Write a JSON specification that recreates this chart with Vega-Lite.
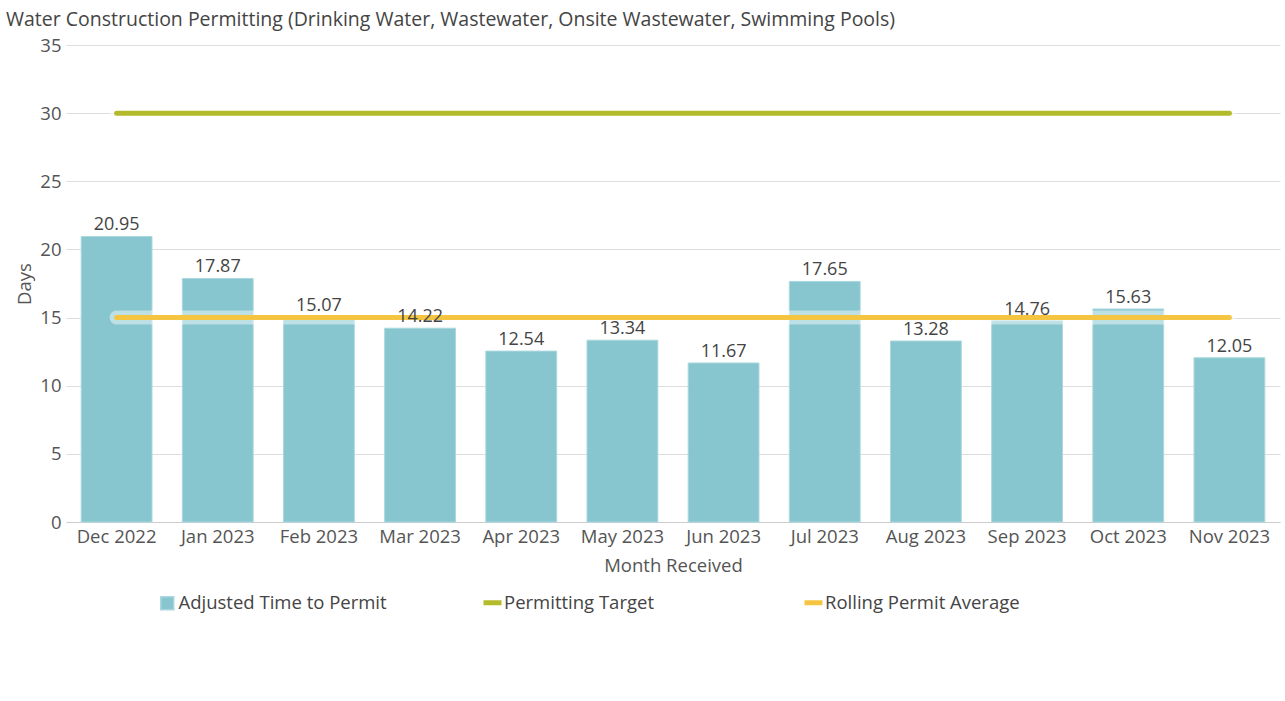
{
  "$schema": "https://vega.github.io/schema/vega-lite/v6.json",
  "autosize": {"type": "none"},
  "padding": {"left": 66, "top": 45, "right": 5, "bottom": 179},
  "width": 1214,
  "height": 477,
  "background": "white",
  "title": {
    "text": "Water Construction Permitting (Drinking Water, Wastewater, Onsite Wastewater, Swimming Pools)",
    "anchor": "start",
    "frame": "group",
    "dx": -60,
    "offset": 6,
    "font": "Open Sans",
    "fontSize": 19.5,
    "fontWeight": "normal",
    "color": "#444444"
  },
  "config": {
    "font": "Open Sans",
    "view": {"stroke": null},
    "axis": {"labelFont": "Open Sans", "titleFont": "Open Sans", "labelColor": "#555555", "titleColor": "#555555", "titleFontWeight": "normal", "labelFontSize": 18.5, "titleFontSize": 18.5},
    "legend": {"labelFont": "Open Sans", "labelFontSize": 18.5, "labelColor": "#444444", "labelLimit": 400}
  },
  "data": {
    "values": [
      {"month": "Dec 2022", "days": 20.95, "target": 30, "avg": 15},
      {"month": "Jan 2023", "days": 17.87, "target": 30, "avg": 15},
      {"month": "Feb 2023", "days": 15.07, "target": 30, "avg": 15},
      {"month": "Mar 2023", "days": 14.22, "target": 30, "avg": 15},
      {"month": "Apr 2023", "days": 12.54, "target": 30, "avg": 15},
      {"month": "May 2023", "days": 13.34, "target": 30, "avg": 15},
      {"month": "Jun 2023", "days": 11.67, "target": 30, "avg": 15},
      {"month": "Jul 2023", "days": 17.65, "target": 30, "avg": 15},
      {"month": "Aug 2023", "days": 13.28, "target": 30, "avg": 15},
      {"month": "Sep 2023", "days": 14.76, "target": 30, "avg": 15},
      {"month": "Oct 2023", "days": 15.63, "target": 30, "avg": 15},
      {"month": "Nov 2023", "days": 12.05, "target": 30, "avg": 15}
    ]
  },
  "encoding": {
    "x": {
      "field": "month", "type": "ordinal", "sort": null,
      "scale": {"paddingInner": 0.3, "paddingOuter": 0.15},
      "axis": {"title": "Month Received", "labelAngle": 0, "ticks": false, "domainColor": "#cccccc", "labelPadding": 5, "titlePadding": 11}
    }
  },
  "layer": [
    {
      "mark": {"type": "bar", "stroke": "#aad8de", "strokeWidth": 1},
      "encoding": {
        "y": {
          "field": "days", "type": "quantitative",
          "scale": {"domain": [0, 35]},
          "axis": {"title": "Days", "values": [0,5,10,15,20,25,30,35], "labelOverlap": false, "ticks": false, "domain": false, "gridColor": "#dddddd", "labelPadding": 5, "titlePadding": 5}
        },
        "color": {
          "datum": "Adjusted Time to Permit",
          "type": "nominal",
          "scale": {"domain": ["Adjusted Time to Permit"], "range": ["#87c6ce"]},
          "legend": {
            "title": null,
            "orient": "none",
            "direction": "horizontal",
            "legendX": 92,
            "legendY": 549,
            "symbolType": "square",
            "symbolSize": 170,
            "labelOffset": 2
          }
        }
      }
    },
    {
      "mark": {"type": "line", "stroke": "white", "strokeWidth": 14, "opacity": 0.45, "strokeCap": "round"},
      "encoding": {"y": {"field": "target", "type": "quantitative", "axis": {"title": "Days", "values": [0,5,10,15,20,25,30,35], "labelOverlap": false, "ticks": false, "domain": false, "gridColor": "#dddddd", "labelPadding": 5, "titlePadding": 5}}}
    },
    {
      "mark": {"type": "line", "strokeWidth": 5, "strokeCap": "round"},
      "encoding": {
        "y": {"field": "target", "type": "quantitative", "axis": {"title": "Days", "values": [0,5,10,15,20,25,30,35], "labelOverlap": false, "ticks": false, "domain": false, "gridColor": "#dddddd", "labelPadding": 5, "titlePadding": 5}},
        "stroke": {
          "datum": "Permitting Target",
          "type": "nominal",
          "scale": {"domain": ["Permitting Target", "Rolling Permit Average"], "range": ["#b3bb2a", "#f5c542"]},
          "legend": {
            "title": null,
            "orient": "none",
            "direction": "horizontal",
            "columns": 2,
            "gridAlign": "each",
            "columnPadding": 140,
            "legendX": 415,
            "legendY": 546,
            "symbolType": "stroke",
            "symbolSize": 324,
            "symbolStrokeWidth": 5,
            "labelOffset": 0
          }
        }
      }
    },
    {
      "mark": {"type": "line", "stroke": "white", "strokeWidth": 14, "opacity": 0.45, "strokeCap": "round"},
      "encoding": {"y": {"field": "avg", "type": "quantitative", "axis": {"title": "Days", "values": [0,5,10,15,20,25,30,35], "labelOverlap": false, "ticks": false, "domain": false, "gridColor": "#dddddd", "labelPadding": 5, "titlePadding": 5}}}
    },
    {
      "mark": {"type": "line", "strokeWidth": 5, "strokeCap": "round"},
      "encoding": {"y": {"field": "avg", "type": "quantitative", "axis": {"title": "Days", "values": [0,5,10,15,20,25,30,35], "labelOverlap": false, "ticks": false, "domain": false, "gridColor": "#dddddd", "labelPadding": 5, "titlePadding": 5}}, "stroke": {"datum": "Rolling Permit Average", "type": "nominal"}}
    },
    {
      "mark": {"type": "text", "dy": -11, "fontSize": 18, "color": "#444444"},
      "encoding": {"y": {"field": "days", "type": "quantitative", "axis": {"title": "Days", "values": [0,5,10,15,20,25,30,35], "labelOverlap": false, "ticks": false, "domain": false, "gridColor": "#dddddd", "labelPadding": 5, "titlePadding": 5}}, "text": {"field": "days", "type": "quantitative", "format": ".2f"}}
    }
  ]
}
